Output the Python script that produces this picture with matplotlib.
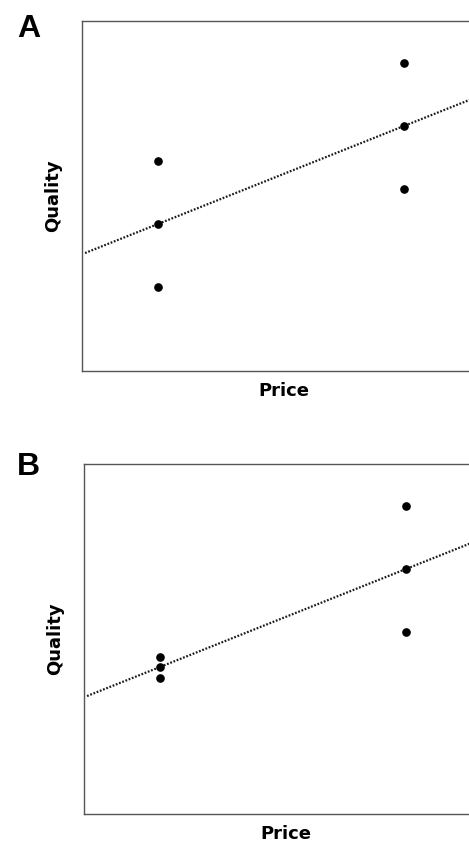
import numpy as np
import matplotlib
matplotlib.use("Agg")
import matplotlib.pyplot as plt

# price levels (two products) and quality ratings at each level
price_low = 1.0
price_high = 4.24

# panel A: widely spread ratings at the low price
quality_a_low = [2.4, 4.2, 6.0]
quality_a_high = [5.2, 7.0, 8.8]

# panel B: tightly clustered ratings at the low price
quality_b_low = [3.9, 4.2, 4.5]
quality_b_high = [5.2, 7.0, 8.8]

panels = [
    ("A", quality_a_low, quality_a_high, [82 / 469, 1 - 371 / 846, 404 / 469, 350 / 846], 37),
    ("B", quality_b_low, quality_b_high, [84 / 469, 1 - 814 / 846, 404 / 469, 350 / 846], 475),
]

fig = plt.figure(figsize=(4.69, 8.46), dpi=100)

for letter, q_low, q_high, rect, letter_y in panels:
    ax = fig.add_axes(rect)
    xs = np.array([price_low] * len(q_low) + [price_high] * len(q_high))
    ys = np.array(q_low + q_high)

    # least-squares line through all points
    slope, icpt = np.polyfit(xs, ys, 1)
    xfit = np.linspace(0.04, 5.4, 50)
    ax.plot(xfit, slope * xfit + icpt, color="#1a1a1a", lw=1.6,
            linestyle=(0, (0.8, 0.75)), zorder=2)

    ax.plot(xs, ys, "o", color="black", ms=5.2, zorder=3)

    ax.set_xlim(0, 5.32)
    ax.set_ylim(0, 10)
    ax.set_xticks([])
    ax.set_yticks([])
    for sp in ax.spines.values():
        sp.set_color("#555555")
        sp.set_linewidth(1.0)

    ax.set_xlabel("Price", fontsize=13, fontweight="bold", labelpad=8)
    ax.set_ylabel("Quality", fontsize=13, fontweight="bold", labelpad=14)

    fig.text(17 / 469, 1 - letter_y / 846, letter, fontsize=23,
             fontweight="bold", family="Liberation Sans", va="baseline")

fig.savefig("out.png", dpi=100)
